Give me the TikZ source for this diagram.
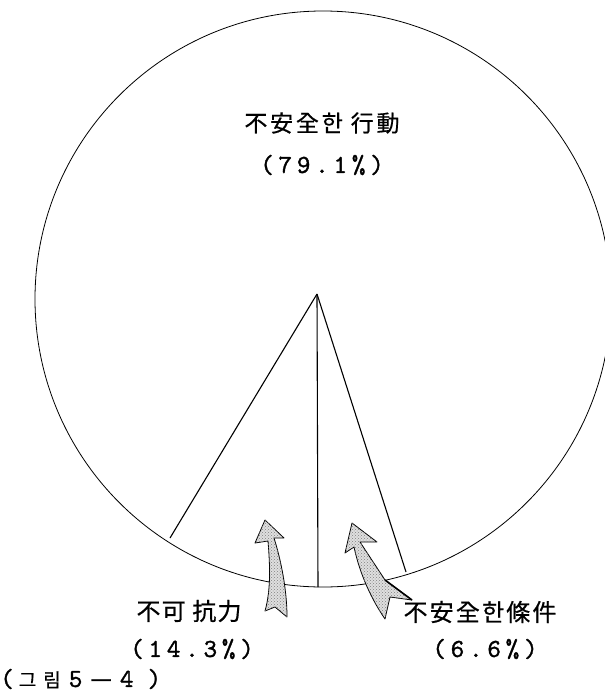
\documentclass[tikz,border=0pt]{standalone}
\usepackage{fontspec}
\usetikzlibrary{patterns}
\newfontfamily\kr{Noto Sans CJK KR}[FakeBold=0.6]
\newfontfamily\tw{lmmono10-regular.otf}[LetterSpace=18,FakeBold=1.2]
\newfontfamily\twn{lmmono10-regular.otf}[FakeBold=1.2]
\begin{document}
\begin{tikzpicture}[x=1pt,y=-1pt,
  txt/.style={inner sep=0pt, anchor=center},
  wedge/.style={line width=1.1pt},
  arrowshape/.style={draw=black, line width=0.8pt, fill=gray!25, line join=round}]
\useasboundingbox (0,0) rectangle (605,699);
\fill[white] (0,0) rectangle (605,699);
\coordinate (c) at (323,299);
\draw[line width=0.8pt] (c) circle[radius=288];
\coordinate (apex) at (317,294);
\coordinate (l) at (170,538);
\coordinate (m) at (318,587);
\coordinate (r) at (406,572);
\draw[wedge] (apex) -- (l);
\draw[wedge] (apex) -- (m);
\draw[wedge] (apex) -- (r);
% left arrow
\def\leftarrowpath{(265,520) -- (284,538) -- (274,538)
  .. controls (281,560) and (287,590) .. (287,617)
  -- (275,607) -- (265,611)
  .. controls (271,590) and (270,565) .. (268,541)
  -- (255,543) -- cycle}
\draw[arrowshape] \leftarrowpath;
\fill[pattern=crosshatch dots, pattern color=black!50] \leftarrowpath;
% right arrow
\def\rightarrowpath{(352,523) -- (377,542) -- (360,542)
  -- (385,580) -- (412,600) -- (390,597) -- (385,619)
  .. controls (372,600) and (360,575) .. (354,547)
  -- (345,553) -- cycle}
\draw[arrowshape] \rightarrowpath;
\fill[pattern=crosshatch dots, pattern color=black!50] \rightarrowpath;
\draw[line width=1.6pt] (385,580) -- (412,600);
% labels
\node[txt] (t1) at (322,123) {\fontsize{23}{26}\kr\addfontfeature{LetterSpace=12}不安全한 行動};
\node[txt] (p1) at (322,165) {\fontsize{26}{30}\tw (79.1\%)};
\node[txt] (t2) at (189,611) {\fontsize{24}{28}\kr\addfontfeature{LetterSpace=5}不可 抗力};
\node[txt] (p2) at (192,649) {\fontsize{26}{30}\tw (14.3\%)};
\node[txt] (t3) at (480,612) {\fontsize{24}{28}\kr\addfontfeature{LetterSpace=9}不安全한條件};
\node[txt] (p3) at (485,649) {\fontsize{26}{30}\tw (6.6\%)};
\node[txt, anchor=west] (cap) at (0,679) {\fontsize{26}{30}\twn(\hspace{5pt}{\kr\fontsize{19}{22}\selectfont 그\hspace{7pt}림}\hspace{8pt}5\hspace{8pt}{\kr\fontsize{24}{28}\selectfont —}\hspace{8pt}4\hspace{14pt})};
\end{tikzpicture}
\end{document}
